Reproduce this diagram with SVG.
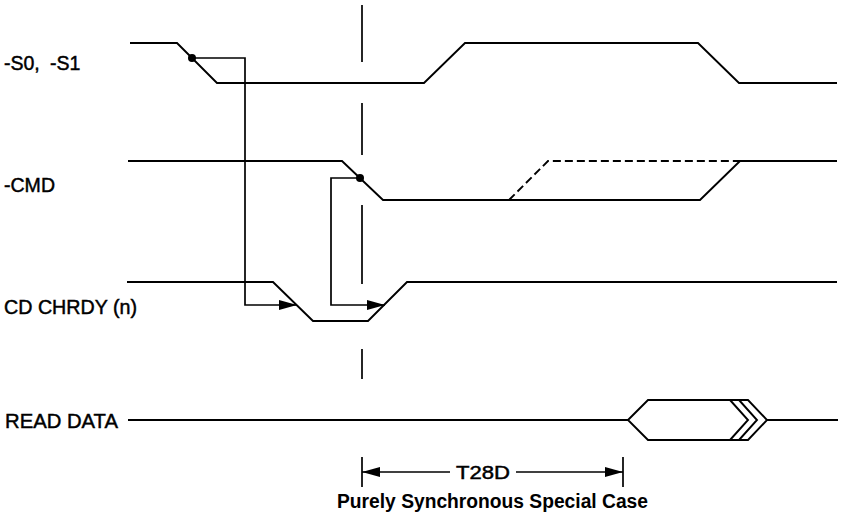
<svg xmlns="http://www.w3.org/2000/svg" width="842" height="525" viewBox="0 0 842 525">
  <defs>
    <style>
      .sig { fill: none; stroke: #000; stroke-width: 1.9; stroke-linejoin: miter; }
      .dash { fill: none; stroke: #000; stroke-width: 1.9; stroke-dasharray: 8 4; }
      .conn { fill: none; stroke: #000; stroke-width: 1.7; }
      .ref { fill: none; stroke: #000; stroke-width: 1.7; }
      .lbl { font-family: "Liberation Sans", Arial, Helvetica, sans-serif; font-size: 19.5px; fill: #000; stroke: #000; stroke-width: 0.45px; }
      .cap { font-family: "Liberation Sans", Arial, Helvetica, sans-serif; font-size: 19.5px; font-weight: bold; fill: #000; }
      .dot { fill: #000; }
    </style>
    <marker id="arrow" markerUnits="userSpaceOnUse" markerWidth="20" markerHeight="12" refX="18" refY="5" orient="auto">
      <path d="M0,0 L18,5 L0,10 Z" fill="#000"/>
    </marker>
  </defs>
  <rect width="842" height="525" fill="#fff"/>

  <g id="signal-s0s1">
    <text class="lbl"><tspan x="4" y="70">-S0,</tspan><tspan x="50" y="70">-S1</tspan></text>
    <path class="sig" d="M130,43 H177 L217,83 H424 L465,43 H698 L739,83 H837"/>
    <circle class="dot" cx="192" cy="58" r="4"/>
  </g>

  <g id="signal-cmd">
    <text class="lbl" x="4" y="192" textLength="51" lengthAdjust="spacingAndGlyphs">-CMD</text>
    <path class="sig" d="M128,161 H342 L383,200 H700 L740,161 H837"/>
    <path class="dash" d="M509,200 L548,161 H740"/>
    <circle class="dot" cx="360" cy="178" r="4"/>
  </g>

  <g id="signal-chrdy">
    <text class="lbl" x="4" y="314" textLength="133" lengthAdjust="spacingAndGlyphs">CD CHRDY (n)</text>
    <path class="sig" d="M127,282 H273 L313,321 H368 L407,282 H837"/>
  </g>

  <g id="signal-readdata">
    <text class="lbl" x="5" y="428" textLength="113" lengthAdjust="spacingAndGlyphs">READ DATA</text>
    <path class="sig" d="M128,420 H628 M767,420 H838"/>
    <polygon class="sig" points="628,420 648,400 748,400 767,420 748,440 648,440"/>
    <path class="sig" d="M730,400 L748,420 L730,440 M739,400 L757,420 L739,440"/>
  </g>

  <g id="reference-line">
    <path class="ref" d="M362,5 V62 M362,103 V155 M362,205 V284 M362,349 V379"/>
  </g>

  <g id="connectors">
    <path class="conn" d="M192,58 H245 V305 H297" marker-end="url(#arrow)"/>
    <path class="conn" d="M360,178 H331 V305 H385" marker-end="url(#arrow)"/>
  </g>

  <g id="dimension-t28d">
    <path class="ref" d="M362,457 V487 M623,457 V487"/>
    <path class="conn" d="M450,472 H362" marker-end="url(#arrow)"/>
    <path class="conn" d="M516,472 H623" marker-end="url(#arrow)"/>
    <text class="lbl" x="456" y="479" style="font-size:17.5px" textLength="54" lengthAdjust="spacingAndGlyphs">T28D</text>
  </g>

  <g id="caption">
    <text class="cap" x="337" y="508" textLength="311" lengthAdjust="spacingAndGlyphs">Purely Synchronous Special Case</text>
  </g>
</svg>
